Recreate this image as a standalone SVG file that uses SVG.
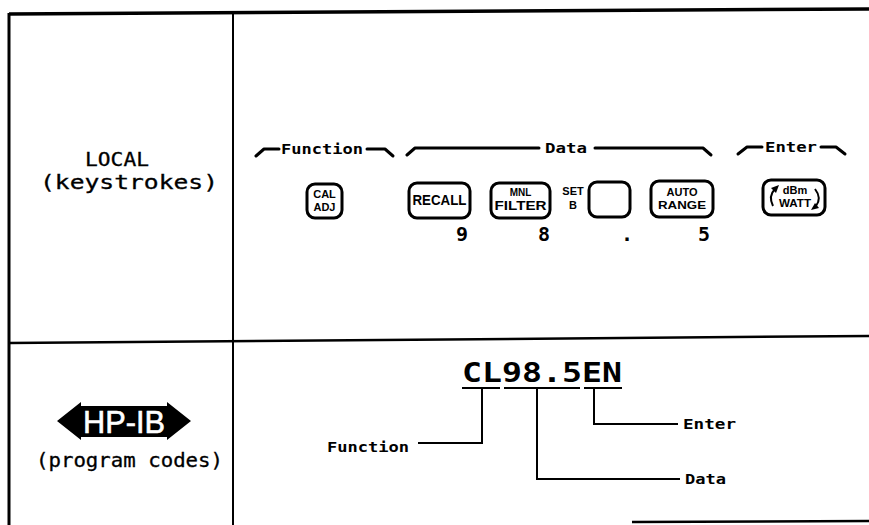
<svg xmlns="http://www.w3.org/2000/svg" width="869" height="525" viewBox="0 0 869 525">
<style>
.frame{stroke:#000;fill:none}
.lbl{font-family:"DejaVu Sans Mono","Liberation Mono",monospace;fill:#000}
.b{font-weight:bold}
.key{fill:#fff;stroke:#000;stroke-width:3}
.kt{font-family:"Liberation Sans","DejaVu Sans",sans-serif;font-weight:bold;fill:#000;text-anchor:middle}
.br{fill:none;stroke:#000;stroke-width:3;stroke-linecap:round;stroke-linejoin:round}
.ln{fill:none;stroke:#000;stroke-width:2}
</style>
<rect width="869" height="525" fill="#fff"/>
<g id="frame">
<line class="frame" x1="9" y1="14" x2="869" y2="9" stroke-width="3.5"/>
<line class="frame" x1="9" y1="13" x2="9" y2="525" stroke-width="3"/>
<line class="frame" x1="233" y1="12" x2="233" y2="525" stroke-width="2"/>
<line class="frame" x1="9" y1="343" x2="869" y2="336" stroke-width="2.5"/>
<line class="frame" x1="632" y1="522" x2="869" y2="521" stroke-width="2.5"/>
</g>
<g id="local-label">
<text class="lbl" x="117" y="166" font-size="19" text-anchor="middle" textLength="64" lengthAdjust="spacingAndGlyphs" stroke="#000" stroke-width="0.3">LOCAL</text>
<text class="lbl" x="40" y="189" font-size="19" textLength="178" lengthAdjust="spacingAndGlyphs" stroke="#000" stroke-width="0.3">(keystrokes)</text>
</g>
<g id="hpib-label">
<polygon points="57,421 81,402 81,406 167,406 167,402 191,421 167,440 167,437 81,437 81,440" fill="#000"/>
<text x="124" y="433" font-family="Liberation Sans,Arial,sans-serif" font-size="31" fill="#fff" stroke="#fff" stroke-width="0.6" text-anchor="middle" textLength="82" lengthAdjust="spacingAndGlyphs">HP-IB</text>
<text class="lbl" x="36" y="467" font-size="19" textLength="187" lengthAdjust="spacingAndGlyphs" stroke="#000" stroke-width="0.3">(program codes)</text>
</g>
<g id="bracket-function">
<path class="br" d="M256,156 L264,149 L279,149"/>
<text class="lbl b" x="281" y="154" font-size="14" textLength="82" lengthAdjust="spacingAndGlyphs">Function</text>
<path class="br" d="M367,149 L385,149 L393,156"/>
</g>
<g id="bracket-data">
<path class="br" d="M407,155 L415,148 L539,148"/>
<text class="lbl b" x="545" y="153" font-size="14" textLength="42" lengthAdjust="spacingAndGlyphs">Data</text>
<path class="br" d="M595,148 L703,148 L711,155"/>
</g>
<g id="bracket-enter">
<path class="br" d="M738,154 L747,147 L762,147"/>
<text class="lbl b" x="765" y="152" font-size="14" textLength="52" lengthAdjust="spacingAndGlyphs">Enter</text>
<path class="br" d="M821,147 L836,147 L845,154"/>
</g>
<g id="key-caladj">
<rect class="key" x="307" y="184" width="35" height="34" rx="8"/>
<text class="kt" x="324.5" y="198" font-size="11">CAL</text>
<text class="kt" x="324.5" y="211" font-size="11">ADJ</text>
</g>
<g id="key-recall">
<rect class="key" x="409" y="183" width="61" height="35" rx="8"/>
<text class="kt" x="439.5" y="205" font-size="14" textLength="54" lengthAdjust="spacingAndGlyphs">RECALL</text>
</g>
<g id="key-mnlfilter">
<rect class="key" x="491" y="183" width="59" height="35" rx="8"/>
<text class="kt" x="520.5" y="196" font-size="10">MNL</text>
<text class="kt" x="520.5" y="210" font-size="12" textLength="52" lengthAdjust="spacingAndGlyphs">FILTER</text>
</g>
<g id="key-setb">
<text class="kt" x="573" y="195" font-size="11">SET</text>
<text class="kt" x="573" y="209" font-size="11">B</text>
<rect class="key" x="589" y="182" width="41" height="35" rx="8"/>
</g>
<g id="key-autorange">
<rect class="key" x="651" y="181" width="62" height="36" rx="8"/>
<text class="kt" x="682" y="196" font-size="11">AUTO</text>
<text class="kt" x="682" y="209" font-size="11" textLength="48" lengthAdjust="spacingAndGlyphs">RANGE</text>
</g>
<g id="key-dbmwatt">
<rect class="key" x="763" y="180" width="62" height="35" rx="8"/>
<text class="kt" x="795" y="194" font-size="11">dBm</text>
<text class="kt" x="795" y="207" font-size="11" textLength="32" lengthAdjust="spacingAndGlyphs">WATT</text>
<path d="M773,206 Q768,196 775,189" fill="none" stroke="#000" stroke-width="2"/>
<polygon points="779,185 771,188 776,193" fill="#000"/>
<path d="M815,189 Q822,198 816,206" fill="none" stroke="#000" stroke-width="2"/>
<polygon points="811,210 819,208 815,203" fill="#000"/>
</g>
<g id="digits">
<text class="lbl b" x="462" y="241" font-size="20" text-anchor="middle">9</text>
<text class="lbl b" x="544" y="241" font-size="20" text-anchor="middle">8</text>
<text class="lbl b" x="627" y="241" font-size="20" text-anchor="middle">.</text>
<text class="lbl b" x="704" y="241" font-size="20" text-anchor="middle">5</text>
</g>
<g id="program-code">
<text class="lbl b" x="462" y="382" font-size="26" textLength="160" lengthAdjust="spacingAndGlyphs">CL98.5EN</text>
<line class="ln" x1="462" y1="388" x2="500" y2="388"/>
<line class="ln" x1="504" y1="388" x2="580" y2="388"/>
<line class="ln" x1="584" y1="388" x2="622" y2="388"/>
</g>
<g id="connectors">
<path class="ln" d="M482,389 L482,443 L418,443"/>
<path class="ln" d="M537,389 L537,479 L680,479"/>
<path class="ln" d="M594,389 L594,424 L678,424"/>
</g>
<g id="code-labels">
<text class="lbl b" x="327" y="452" font-size="14" textLength="82" lengthAdjust="spacingAndGlyphs">Function</text>
<text class="lbl b" x="683" y="429" font-size="14" textLength="53" lengthAdjust="spacingAndGlyphs">Enter</text>
<text class="lbl b" x="685" y="484" font-size="14" textLength="41" lengthAdjust="spacingAndGlyphs">Data</text>
</g>
</svg>
